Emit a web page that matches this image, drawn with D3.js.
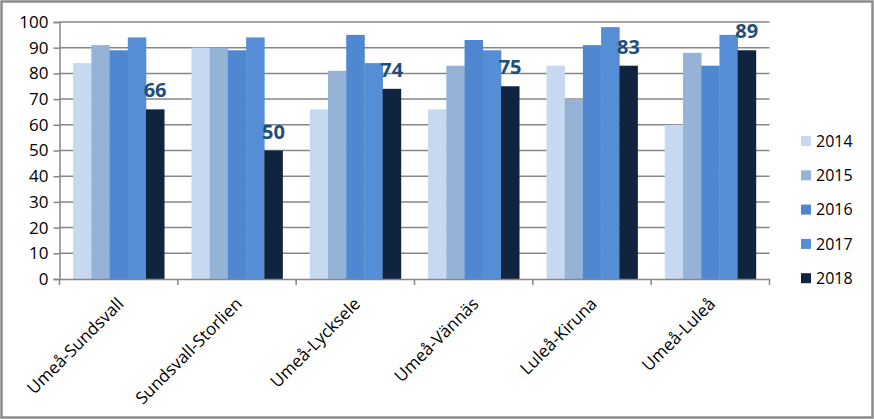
<!DOCTYPE html>
<html><head><meta charset="utf-8">
<script src="https://cdn.jsdelivr.net/npm/d3@7"></script>
<style>body{margin:0;background:#fff}svg{display:block}</style>
</head><body>
<svg id="c" width="874" height="419"></svg>
<script>
const categories = ["Umeå-Sundsvall","Sundsvall-Storlien","Umeå-Lycksele","Umeå-Vännäs","Luleå-Kiruna","Umeå-Luleå"];
const years = ["2014","2015","2016","2017","2018"];
const v2014 = [84, 90, 66, 66, 83, 60];
const v2015 = [91, 90, 81, 83, 70, 88];
const v2016 = [89, 89, 95, 93, 91, 83];
const v2017 = [94, 94, 84, 89, 98, 95];
const v2018 = [66, 50, 74, 75, 83, 89];
const yTicks = [0,10,20,30,40,50,60,70,80,90,100];
const colors = ["#c6d9f1","#95b3d7","#4f88d0","#558ed5","#10243f"];
const seriesVals = [v2014, v2015, v2016, v2017, v2018];

const svg = d3.select("#c");
const font = "'Open Sans', 'Noto Sans', sans-serif";
svg.append("rect").attr("x",1.5).attr("y",1.5).attr("width",871).attr("height",416)
  .attr("fill","#fff").attr("stroke","#8c8c8c").attr("stroke-width",2.5);

const L = 59.5, R = 769.5, T = 22, B = 279;
const x0 = d3.scaleBand().domain(categories).range([L,R]).paddingInner(0).paddingOuter(0);
const gw = x0.bandwidth();
const x1 = d3.scaleBand().domain(years).range([gw*0.115, gw*0.885]).padding(0);
const y = d3.scaleLinear().domain([0,100]).range([B,T]);

// gridlines
svg.append("g").selectAll("line").data(yTicks.filter(d=>d>0)).join("line")
  .attr("x1",L).attr("x2",R).attr("y1",d=>y(d)).attr("y2",d=>y(d))
  .attr("stroke","#868686").attr("stroke-width",1.5);

// bars
const groups = svg.append("g").selectAll("g").data(categories).join("g")
  .attr("transform",c=>`translate(${x0(c)},0)`);
groups.selectAll("rect").data((c,i)=>years.map((yr,j)=>({yr, v: seriesVals[j][i], j})))
  .join("rect")
  .attr("x",d=>x1(d.yr)).attr("width",x1.bandwidth()+0.3)
  .attr("y",d=>y(d.v)).attr("height",d=>B-y(d.v))
  .attr("fill",d=>colors[d.j]);

// data labels for 2018
svg.append("g").selectAll("text").data(categories).join("text")
  .attr("x",(c)=>x0(c)+x1("2018")+x1.bandwidth()/2)
  .attr("y",(c,i)=>y(v2018[i])-12)
  .attr("text-anchor","middle")
  .attr("font-family",font).attr("font-weight","bold").attr("font-size",20)
  .attr("fill","#1f4e79")
  .text((c,i)=>v2018[i]);

// y axis
const ya = svg.append("g").attr("transform",`translate(${L},0)`)
  .call(d3.axisLeft(y).tickValues(yTicks).tickSize(6).tickPadding(5));
ya.select(".domain").attr("stroke","#868686").attr("stroke-width",1.5);
ya.selectAll(".tick line").attr("stroke","#868686").attr("stroke-width",1.5);
ya.selectAll("text").attr("font-family",font).attr("font-size",17).attr("fill","#000");

// x axis
const xa = svg.append("g").attr("transform",`translate(0,${B})`)
  .call(d3.axisBottom(x0).tickSize(0).tickFormat(""));
xa.select(".domain").attr("stroke","#868686").attr("stroke-width",1.5);
const bTicks = categories.map(c=>x0(c)).concat([R]);
xa.selectAll("line.bt").data(bTicks).join("line").attr("class","bt")
  .attr("x1",d=>d).attr("x2",d=>d).attr("y1",0).attr("y2",6)
  .attr("stroke","#868686").attr("stroke-width",1.5);

svg.append("g").selectAll("text").data(categories).join("text")
  .attr("transform",c=>`translate(${x0(c)+gw/2+6},${B+26}) rotate(-45)`)
  .attr("text-anchor","end")
  .attr("font-family",font).attr("font-size",17).attr("fill","#000")
  .text(c=>c);

// legend
const lg = svg.append("g").selectAll("g").data(years).join("g")
  .attr("transform",(d,i)=>`translate(801,${141 + i*34.3})`);
lg.append("rect").attr("x",0).attr("y",-5).attr("width",10).attr("height",10)
  .attr("fill",(d,i)=>colors[i]);
lg.append("text").attr("x",15).attr("y",0).attr("dy","0.36em")
  .attr("font-family",font).attr("font-size",16).attr("fill","#000").text(d=>d);
</script>
</body></html>
